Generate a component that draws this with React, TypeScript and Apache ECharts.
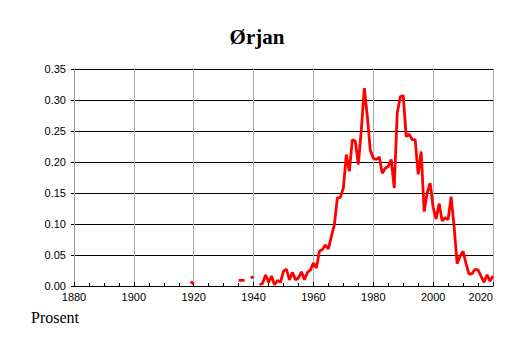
import React, { useEffect, useRef } from "react";
import * as echarts from "echarts";

const titleText = "Ørjan";
const yAxisLabel = "Prosent";
const startYear = 1919;
// Values (percent) per year from 1919 to 2020; null = no data
const values: (number | null)[] = [
  0.007, 0.003,
  null, null, null, null, null, null, null, null, null, null, null, null, null, null,
  0.009, 0.009, 0.009, null, 0.013, 0.015, null,
  0.002, 0.004, 0.018, 0.006, 0.016, 0.002, 0.009, 0.006, 0.024, 0.027,
  0.010, 0.022, 0.010, 0.013, 0.023, 0.010, 0.022, 0.026, 0.037, 0.029,
  0.056, 0.059, 0.066, 0.060, 0.080, 0.099, 0.142, 0.143, 0.158, 0.212,
  0.185, 0.236, 0.234, 0.196, 0.252, 0.319, 0.274, 0.219, 0.206, 0.204,
  0.208, 0.182, 0.190, 0.193, 0.204, 0.158, 0.279, 0.305, 0.307, 0.241,
  0.245, 0.236, 0.236, 0.180, 0.217, 0.120, 0.150, 0.166, 0.127, 0.108,
  0.133, 0.105, 0.110, 0.107, 0.144, 0.096, 0.036, 0.048, 0.056, 0.036,
  0.019, 0.020, 0.027, 0.026, 0.016, 0.006, 0.018, 0.008, 0.016,
];
const xMin = 1880;
const xMax = 2020;
const xInterval = 20;
const yMin = 0;
const yMax = 0.35;
const yInterval = 0.05;

export default function App() {
  const ref = useRef<HTMLDivElement>(null);
  useEffect(() => {
    document.body.style.margin = "0";
    const chart = echarts.init(ref.current!, undefined, { renderer: "svg" });
    const data = values.map((v, i) => [startYear + i, v]);
    chart.setOption({
      animation: false,
      backgroundColor: "#ffffff",
      title: {
        text: titleText,
        left: "center",
        top: 21,
        textStyle: {
          fontFamily: "Liberation Serif",
          fontWeight: "bold",
          fontSize: 21,
          color: "#000",
        },
      },
      grid: { left: 74, right: 21, top: 69, bottom: 57, containLabel: false },
      xAxis: {
        type: "value",
        min: xMin,
        max: xMax,
        interval: xInterval,
        axisLine: { show: true, lineStyle: { color: "#000", width: 1 } },
        axisTick: { show: true, inside: true, length: 4, lineStyle: { color: "#000" } },
        minorTick: { show: true, splitNumber: 4, length: 3, lineStyle: { color: "#000" } },
        splitLine: { show: true, lineStyle: { color: "#aaaaaa", width: 1 } },
        axisLabel: {
          fontFamily: "Liberation Sans",
          fontSize: 11,
          color: "#000",
          margin: 5,
          alignMaxLabel: "right",
          formatter: (v: number) => String(v),
        },
      },
      yAxis: {
        type: "value",
        min: yMin,
        max: yMax,
        interval: yInterval,
        axisLine: { show: true, lineStyle: { color: "#999999", width: 1 } },
        axisTick: { show: true, inside: false, length: 3, lineStyle: { color: "#000" } },
        splitLine: { show: true, lineStyle: { color: "#000", width: 1 } },
        axisLabel: {
          fontFamily: "Liberation Sans",
          fontSize: 11,
          color: "#000",
          margin: 8,
          formatter: (v: number) => v.toFixed(2),
        },
      },
      graphic: [
        {
          type: "text",
          left: 31,
          top: 309,
          style: {
            text: yAxisLabel,
            fontFamily: "Liberation Serif",
            fontSize: 16,
            fill: "#000",
          },
        },
      ],
      series: [
        {
          type: "line",
          data,
          showSymbol: false,
          symbol: "none",
          connectNulls: false,
          lineStyle: { color: "#ff0000", width: 2.8 },
          itemStyle: { color: "#ff0000" },
        },
      ],
    });
    return () => chart.dispose();
  }, []);
  return (
    <div
      ref={ref}
      style={{ position: "absolute", left: 0, top: 0, width: 514, height: 343 }}
    />
  );
}
